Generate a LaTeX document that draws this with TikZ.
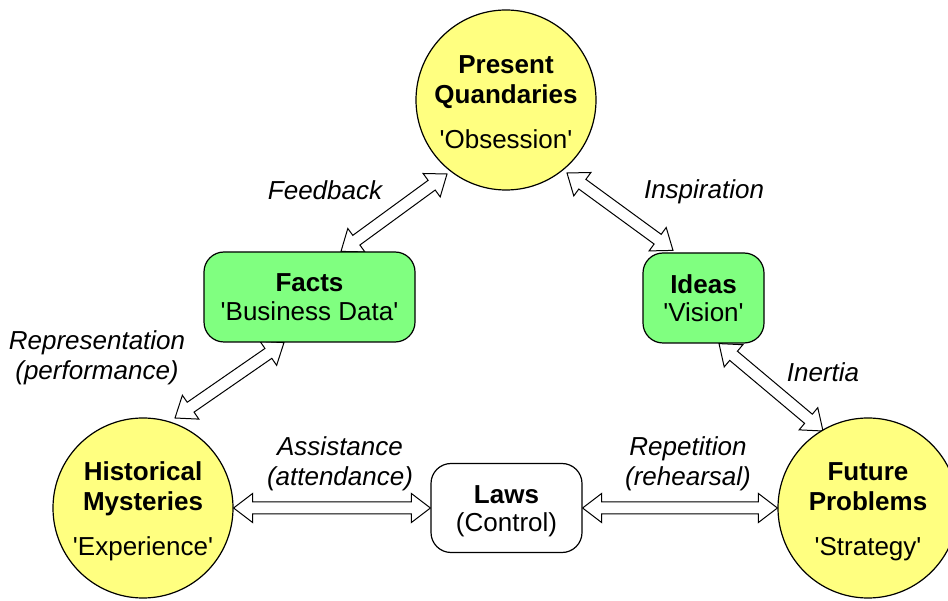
\documentclass[tikz,border=0pt]{standalone}
\usepackage{fontspec}
\setmainfont{Liberation Sans}
\usetikzlibrary{calc,backgrounds}
\definecolor{circfill}{HTML}{FFFF80}
\definecolor{boxfill}{HTML}{80FF80}
\newcommand\qq{\textquotesingle}
\newcommand\blockarrow[2]{%
  \path (#1) coordinate (baA) (#2) coordinate (baB);
  \draw[barrow] (baA)
   -- ($(baA)!19pt!(baB)!14.5pt!90:(baB)$)
   -- ($(baA)!19pt!(baB)!6pt!90:(baB)$)
   -- ($(baB)!19pt!(baA)!6pt!-90:(baA)$)
   -- ($(baB)!19pt!(baA)!14.5pt!-90:(baA)$)
   -- (baB)
   -- ($(baB)!19pt!(baA)!14.5pt!90:(baA)$)
   -- ($(baB)!19pt!(baA)!6pt!90:(baA)$)
   -- ($(baA)!19pt!(baB)!6pt!-90:(baB)$)
   -- ($(baA)!19pt!(baB)!14.5pt!-90:(baB)$)
   -- cycle;}
\tikzset{
  circ/.style={circle, draw, line width=1.2pt, fill=circfill, minimum size=180pt,
    inner sep=0pt, align=center, font=\fontsize{26}{29.5}\selectfont},
  rbox/.style={rectangle, rounded corners=20pt, draw, line width=1.2pt,
    inner sep=0pt, align=center, font=\fontsize{26}{28.5}\selectfont},
  lbl/.style={align=center, inner sep=0pt, font=\fontsize{26}{30}\selectfont\itshape},
  barrow/.style={draw, fill=white, line width=1pt, line join=miter},
}
\begin{document}
\begin{tikzpicture}[x=1pt, y=1pt]
\useasboundingbox (0,0) rectangle (948,600);
% circles
\node[circ] (pq) at (506,500) {\rule{0pt}{23pt}\textbf{Present}\\\textbf{Quandaries}\\[16pt]\qq Obsession\qq};
\node[circ] (hm) at (143,92) {\rule{0pt}{26pt}\textbf{Historical}\\\textbf{Mysteries}\\[16pt]\qq Experience\qq};
\node[circ] (fp) at (868,92) {\rule{0pt}{26pt}\textbf{Future}\\\textbf{Problems}\\[16pt]\qq Strategy\qq};
% boxes
\node[rbox, fill=boxfill, minimum width=211pt, minimum height=90pt] (facts) at (309.5,303)
  {\textbf{Facts}\\\qq Business Data\qq};
\node[rbox, fill=boxfill, minimum width=121pt, minimum height=90pt] (ideas) at (703.5,302)
  {\textbf{Ideas}\\\qq Vision\qq};
\node[rbox, fill=white, minimum width=151pt, minimum height=89pt] (laws) at (506.5,92)
  {\rule{0pt}{24pt}\textbf{Laws}\\(Control)};
% labels
\node[lbl] (lfeed) at (325,410) {Feedback};
\node[lbl] (linsp) at (704,408) {Inspiration};
\node[lbl] (lrep) at (97,242) {Representation\\(performance)};
\node[lbl] (linert) at (823,228) {Inertia};
\node[lbl] (lassist) at (340,136) {Assistance\\(attendance)};
\node[lbl] (lrepet) at (688,136) {Repetition\\(rehearsal)};
% arrows
\begin{scope}[on background layer]
\blockarrow{$(facts.north)+(31.5,0)$}{$(pq.center)+(-59,-74)$}
\blockarrow{$(ideas.north)+(-30.5,2)$}{$(pq.center)+(61,-73)$}
\blockarrow{$(facts.south)+(-25.5,0)$}{$(hm.center)+(32,90)$}
\blockarrow{$(ideas.south)+(15.5,0)$}{$(fp.center)+(-45,77)$}
\blockarrow{hm.east}{laws.west}
\blockarrow{laws.east}{fp.west}
\end{scope}
\end{tikzpicture}
\end{document}
